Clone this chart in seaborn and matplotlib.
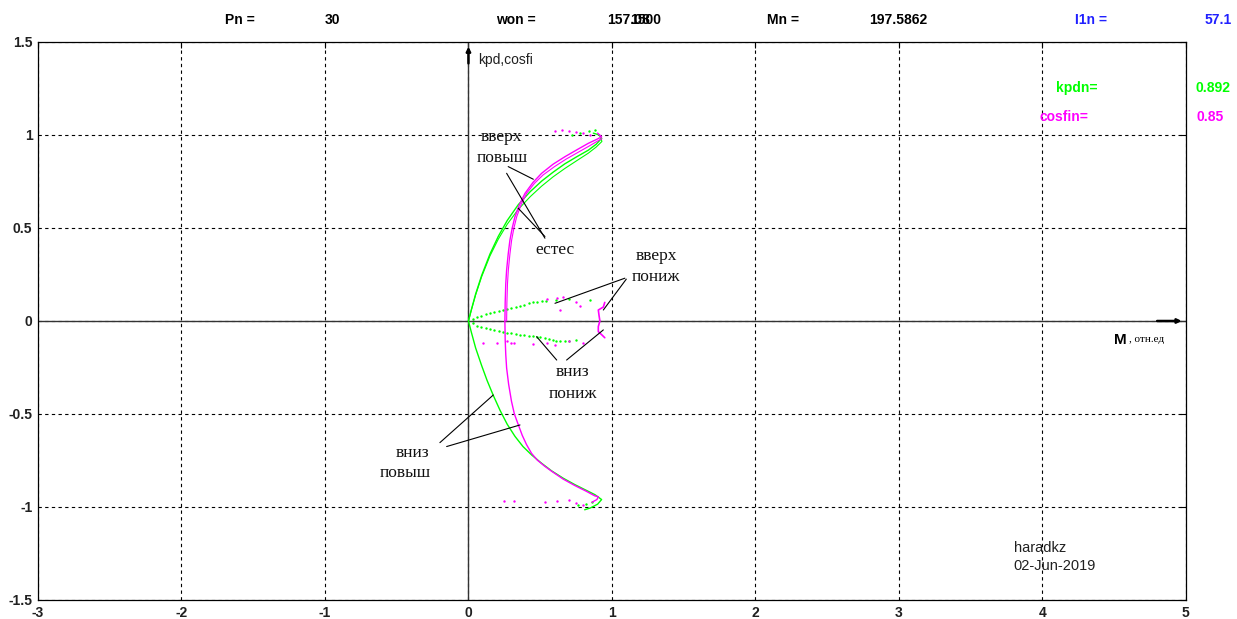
import matplotlib
matplotlib.use("Agg")
import matplotlib.pyplot as plt
import seaborn as sns
import pandas as pd

# --- efficiency (kpd) and power factor (cosfi) versus relative torque M ---
# upper half: "вверх" branch, lower half: "вниз" branch

kpd_up_nat_x = [0, 0.02, 0.05, 0.092, 0.15, 0.208, 0.27, 0.347, 0.43, 0.51, 0.59, 0.672, 0.755, 0.835, 0.89, 0.928, 0.91, 0.87]
kpd_up_nat_y = [0, 0.06, 0.145, 0.245, 0.36, 0.455, 0.54, 0.625, 0.695, 0.752, 0.8, 0.845, 0.883, 0.918, 0.95, 0.982, 1.0, 1.01]

kpd_up_hi_x = [0, 0.02, 0.05, 0.092, 0.15, 0.208, 0.27, 0.347, 0.43, 0.51, 0.59, 0.672, 0.755, 0.835, 0.89, 0.93, 0.92]
kpd_up_hi_y = [0, 0.058, 0.14, 0.238, 0.35, 0.44, 0.52, 0.6, 0.668, 0.725, 0.775, 0.82, 0.862, 0.902, 0.935, 0.965, 0.99]

cos_up_nat_x = [0.254, 0.256, 0.26, 0.266, 0.277, 0.289, 0.305, 0.324, 0.355, 0.394, 0.45, 0.51, 0.59, 0.672, 0.755, 0.835, 0.89, 0.928, 0.90]
cos_up_nat_y = [0, 0.1, 0.2, 0.274, 0.36, 0.435, 0.5, 0.56, 0.625, 0.686, 0.745, 0.794, 0.843, 0.883, 0.92, 0.955, 0.975, 0.99, 1.01]

cos_up_hi_x = [0.266, 0.268, 0.272, 0.278, 0.289, 0.301, 0.317, 0.336, 0.367, 0.405, 0.46, 0.52, 0.60, 0.68, 0.76, 0.84, 0.895, 0.93]
cos_up_hi_y = [0, 0.1, 0.2, 0.274, 0.36, 0.435, 0.5, 0.56, 0.625, 0.686, 0.74, 0.785, 0.83, 0.87, 0.905, 0.94, 0.965, 0.98]

kpd_dn_nat_x = [0, 0.02, 0.05, 0.092, 0.13, 0.173, 0.22, 0.27, 0.324, 0.38, 0.44, 0.51, 0.58, 0.66, 0.742, 0.82, 0.882, 0.928, 0.90, 0.85, 0.81]
kpd_dn_nat_y = [0, -0.06, -0.145, -0.24, -0.32, -0.40, -0.48, -0.555, -0.62, -0.675, -0.72, -0.765, -0.806, -0.845, -0.88, -0.91, -0.934, -0.96, -0.985, -1.005, -1.015]

cos_dn_nat_x = [0.254, 0.256, 0.26, 0.266, 0.28, 0.30, 0.32, 0.347, 0.375, 0.405, 0.44, 0.48, 0.53, 0.58, 0.66, 0.742, 0.82, 0.88, 0.905, 0.895, 0.86]
cos_dn_nat_y = [0, -0.1, -0.18, -0.253, -0.34, -0.432, -0.5, -0.557, -0.615, -0.665, -0.712, -0.748, -0.78, -0.808, -0.85, -0.885, -0.915, -0.94, -0.945, -0.96, -0.975]

# reduced ("пониж") branches, drawn as sparse dots
kpd_lo_up_x = [0.03, 0.06, 0.09, 0.12, 0.15, 0.18, 0.21, 0.243, 0.27, 0.30, 0.33, 0.36, 0.39, 0.42, 0.45, 0.475, 0.51, 0.54, 0.61, 0.70, 0.85]
kpd_lo_up_y = [0.01, 0.02, 0.028, 0.035, 0.042, 0.048, 0.054, 0.059, 0.064, 0.07, 0.076, 0.082, 0.088, 0.094, 0.1, 0.104, 0.107, 0.11, 0.113, 0.116, 0.112]
kpd_lo_dn_x = [0.03, 0.06, 0.09, 0.12, 0.15, 0.18, 0.21, 0.243, 0.27, 0.30, 0.33, 0.36, 0.39, 0.42, 0.45, 0.475, 0.50, 0.53, 0.56, 0.59, 0.61, 0.638, 0.67, 0.70, 0.75]
kpd_lo_dn_y = [-0.012, -0.025, -0.033, -0.04, -0.045, -0.05, -0.054, -0.057, -0.062, -0.066, -0.07, -0.073, -0.077, -0.08, -0.082, -0.084, -0.088, -0.092, -0.097, -0.102, -0.106, -0.11, -0.108, -0.105, -0.10]

cos_dots_x = [0.55, 0.62, 0.64, 0.66, 0.75, 0.78, 0.10, 0.20, 0.27, 0.30, 0.32, 0.45, 0.55, 0.60, 0.70, 0.80,
              0.60, 0.65, 0.70, 0.75, 0.80, 0.85, 0.25, 0.32, 0.53, 0.62, 0.70, 0.75, 0.80]
cos_dots_y = [0.12, 0.125, 0.06, 0.13, 0.10, 0.08, -0.12, -0.12, -0.11, -0.12, -0.12, -0.125, -0.12, -0.13, -0.11, -0.12,
              1.02, 1.025, 1.02, 1.015, 1.01, 1.0, -0.97, -0.97, -0.975, -0.97, -0.965, -0.98, -0.99]
kpd_dots_x = [0.72, 0.78, 0.84, 0.88, 0.76, 0.82, 0.86]
kpd_dots_y = [1.0, 1.01, 1.02, 1.025, -0.99, -0.985, -0.975]

cos_lo_x = [0.95, 0.94, 0.905, 0.91, 0.916, 0.905, 0.905, 0.93, 0.95]
cos_lo_y = [0.10, 0.075, 0.059, 0.03, 0.0, -0.03, -0.057, -0.075, -0.09]

x_ticks = [-3, -2, -1, 0, 1, 2, 3, 4, 5]
y_ticks = [-1.5, -1, -0.5, 0, 0.5, 1, 1.5]
y_tick_labels = ["-1.5", "-1", "-0.5", "0", "0.5", "1", "1.5"]

GREEN = "#00ff00"
MAGENTA = "#ff00ff"

sns.set_theme(style="white")
plt.rcParams["font.family"] = ["Liberation Sans", "DejaVu Sans"]

fig = plt.figure(figsize=(12.37, 6.19), dpi=100)
ax = fig.add_axes([0.0307, 0.0307, 0.928, 0.9015])

def curve(xs, ys, color, lw=1.0):
    df = pd.DataFrame({"M": xs, "v": ys})
    sns.lineplot(data=df, x="M", y="v", sort=False, estimator=None, color=color, lw=lw, ax=ax)

def dots(xs, ys, color, s=3):
    df = pd.DataFrame({"M": xs, "v": ys})
    sns.scatterplot(data=df, x="M", y="v", color=color, s=s, linewidth=0, ax=ax)

curve(kpd_up_nat_x, kpd_up_nat_y, GREEN)
curve(kpd_up_hi_x, kpd_up_hi_y, GREEN, lw=0.8)
curve(cos_up_nat_x, cos_up_nat_y, MAGENTA)
curve(cos_up_hi_x, cos_up_hi_y, MAGENTA, lw=0.8)
curve(kpd_dn_nat_x, kpd_dn_nat_y, GREEN)
curve(cos_dn_nat_x, cos_dn_nat_y, MAGENTA)
curve(cos_lo_x, cos_lo_y, MAGENTA, lw=1.2)
dots(kpd_lo_up_x, kpd_lo_up_y, GREEN)
dots(kpd_lo_dn_x, kpd_lo_dn_y, GREEN)
dots(cos_dots_x, cos_dots_y, MAGENTA)
dots(kpd_dots_x, kpd_dots_y, GREEN)

ax.set_xlim(-3, 5)
ax.set_ylim(-1.5, 1.5)
ax.set_xticks(x_ticks)
ax.set_yticks(y_ticks)
ax.set_xticklabels([str(v) for v in x_ticks])
ax.set_yticklabels(y_tick_labels)
ax.set_xlabel("")
ax.set_ylabel("")
ax.tick_params(direction="in", length=4, width=0.8, colors="black", labelsize=10,
               top=True, right=True, pad=4)
for lab in ax.get_xticklabels() + ax.get_yticklabels():
    lab.set_fontweight("bold")
    lab.set_color("#202020")
for sp in ax.spines.values():
    sp.set_color("black")
    sp.set_linewidth(0.9)
ax.grid(True, color="black", linestyle=(0, (3, 3)), linewidth=0.8)
ax.set_axisbelow(True)

# coordinate axes through the origin with arrow heads
ax.axhline(0, color="#333333", lw=1.0, zorder=1)
ax.axvline(0, color="#333333", lw=1.0, zorder=1)
ax.annotate("", xy=(0, 1.49), xytext=(0, 1.37),
            arrowprops=dict(arrowstyle="-|>", color="black", lw=1.8, mutation_scale=6))
ax.annotate("", xy=(4.99, 0), xytext=(4.78, 0),
            arrowprops=dict(arrowstyle="-|>", color="black", lw=1.8, mutation_scale=6))
ax.text(0.066, 1.405, "kpd,cosfi", fontsize=10, color="#202020", va="center", ha="left")
ax.text(4.54, -0.10, "M", fontsize=11, fontweight="bold", color="black", va="center", ha="center")
ax.text(4.6, -0.10, ", отн.ед", fontsize=8, family=["Liberation Serif", "DejaVu Serif"],
        color="black", va="center", ha="left")

# branch labels with leader lines
serif = ["Liberation Serif", "DejaVu Serif"]
lab_kw = dict(fontsize=12.5, family=serif, color="#111111", ha="center", va="center")
ax.text(0.233, 0.989, "вверх", **lab_kw)
ax.text(0.233, 0.876, "повыш", **lab_kw)
ax.text(0.60, 0.38, "естес", **lab_kw)
ax.text(1.31, 0.349, "вверх", **lab_kw)
ax.text(1.31, 0.237, "пониж", **lab_kw)
ax.text(0.728, -0.274, "вниз", **lab_kw)
ax.text(0.728, -0.392, "пониж", **lab_kw)
ax.text(-0.39, -0.71, "вниз", **lab_kw)
ax.text(-0.44, -0.817, "повыш", **lab_kw)

leaders = [
    ((0.277, 0.83), (0.452, 0.762)),
    ((0.266, 0.794), (0.533, 0.445)),
    ((0.347, 0.606), (0.533, 0.454)),
    ((1.09, 0.23), (0.603, 0.095)),
    ((1.10, 0.225), (0.94, 0.059)),
    ((0.615, -0.21), (0.475, -0.084)),
    ((0.684, -0.21), (0.94, -0.048)),
    ((-0.199, -0.654), (0.173, -0.398)),
    ((-0.152, -0.675), (0.359, -0.559)),
]
for (x0, y0), (x1, y1) in leaders:
    ax.plot([x0, x1], [y0, y1], color="black", lw=0.8, zorder=3)

# rated values
rk = dict(fontsize=10, fontweight="bold", ha="center", va="center", clip_on=False)
ax.text(4.24, 1.253, "kpdn=", color=GREEN, **rk)
ax.text(5.19, 1.253, "0.892", color=GREEN, **rk)
ax.text(4.15, 1.097, "cosfin=", color=MAGENTA, **rk)
ax.text(5.17, 1.097, "0.85", color=MAGENTA, **rk)

ax.text(3.8, -1.22, "haradkz", fontsize=10.5, color="#202020", ha="left", va="center")
ax.text(3.8, -1.317, "02-Jun-2019", fontsize=10.5, color="#202020", ha="left", va="center")

top_y = 1 - 20 / 619
hdr = dict(fontsize=10, fontweight="bold", va="center")
fig.text(240 / 1237, top_y, "Pn =", color="black", ha="center", **hdr)
fig.text(332 / 1237, top_y, "30", color="black", ha="center", **hdr)
fig.text(516 / 1237, top_y, "won =", color="black", ha="center", **hdr)
fig.text(607 / 1237, top_y, "157.08", color="black", ha="left", **hdr)
fig.text(661 / 1237, top_y, "1500", color="black", ha="right", **hdr)
fig.text(783 / 1237, top_y, "Mn =", color="black", ha="center", **hdr)
fig.text(898 / 1237, top_y, "197.5862", color="black", ha="center", **hdr)
fig.text(1091 / 1237, top_y, "I1n =", color="#2020ff", ha="center", **hdr)
fig.text(1218 / 1237, top_y, "57.1", color="#2020ff", ha="center", **hdr)

fig.savefig("out.png", dpi=100, facecolor="white")
